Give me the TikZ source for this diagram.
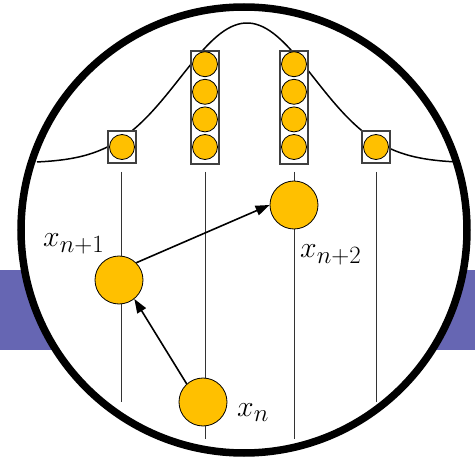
\documentclass[tikz,border=0pt]{standalone}
\usepackage{amsmath}
\usepackage{graphicx}
\usetikzlibrary{arrows.meta,positioning}

\definecolor{bandblue}{RGB}{102,102,179}
\definecolor{ballfill}{RGB}{255,192,0}

\newcommand{\biglab}[1]{\scalebox{1.2}{\fontsize{24.88}{30}\selectfont$#1$}}

\begin{document}
\begin{tikzpicture}[x=1pt,y=-1pt,
  ball/.style={circle,draw=black,line width=0.8pt,fill=ballfill,inner sep=0pt,minimum size=48pt},
  pebble/.style={circle,draw=black,line width=0.8pt,fill=ballfill,inner sep=0pt,minimum size=25pt},
  bin/.style={draw=black!75,line width=1.2pt,fill=white},
  hop/.style={-{Triangle[length=14pt,width=10pt]},line width=1.6pt},
  lab/.style={inner sep=0pt}]
  \useasboundingbox (0,0) rectangle (475,460);

  % Band behind the lens
  \fill[bandblue] (0,270) rectangle (475,350);

  % Lens
  \fill[white] (244,230) circle (223);

  % Bell curve
  \draw[line width=1.5pt,domain=37:457,samples=120]
    plot (\x,{163-140*exp(-((\x-247)/94.87)^2)});

  % Chains
  \foreach \x/\y in {121/402,205/439,294/439,376/402}
    \draw[line width=0.8pt,black!80] (\x,172) -- (\x,\y);

  % Histogram bins
  \foreach \x in {122,376} {
    \draw[bin] (\x-14,131) rectangle (\x+14,163);
    \node[pebble] (p-\x-0) at (\x,147) {};
  }
  \foreach \x in {205,294} {
    \draw[bin] (\x-14,51) rectangle (\x+14,164);
    \foreach \k in {0,...,3}
      \node[pebble] (p-\x-\k) at (\x,147-27.6*\k) {};
  }

  % Samples
  \node[ball] (xn) at (203,402) {};
  \node[ball] (xnA) at (119,280) {};
  \node[ball] (xnB) at (294,205) {};

  \draw[hop] (xn.132) -- (xnA.-51);
  \draw[hop] (xnA.45) -- (xnB.west);

  \node[lab,anchor=base west] (lxn) at (237,417) {\biglab{x_n}};
  \node[lab,anchor=base west] (lxnA) at (43,247) {\biglab{x_{n+1}}};
  \node[lab,anchor=base west] (lxnB) at (300,258) {\biglab{x_{n+2}}};

  % Lens rim
  \draw[line width=7.5pt] (244,230) circle (223);
\end{tikzpicture}
\end{document}
